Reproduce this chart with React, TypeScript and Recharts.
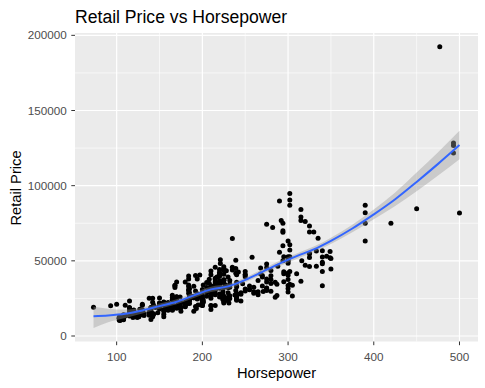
import React from "react";
import {
  ComposedChart,
  Scatter,
  Line,
  Area,
  XAxis,
  YAxis,
  CartesianGrid,
} from "recharts";

const FONT = "'Liberation Sans', Arial, sans-serif";

const chartTitle = "Retail Price vs Horsepower";
const xTitle = "Horsepower";
const yTitle = "Retail Price";

const xTicks = [100, 200, 300, 400, 500];
const yTicks = [0, 50000, 100000, 150000, 200000];
const xMinorGrid = [150, 250, 350, 450];
const yMinorGrid = [25000, 75000, 125000, 175000];

// [horsepower, retail price], one line per make
const cars: [number, number][] = [
  [265, 36945], [200, 23820], [200, 26990], [270, 33195], [225, 43755], [225, 46100], [290, 89765],
  [170, 25940], [170, 35940], [220, 31840], [220, 33430], [220, 34480], [220, 36640], [220, 39640],
  [220, 42490], [220, 44240], [250, 42840], [300, 49690], [330, 69190], [340, 48040], [450, 84600],
  [180, 35940], [225, 37390], [250, 40590], [220, 40840], [340, 49090],
  [225, 37000], [325, 52195], [184, 28495], [184, 30795], [184, 37995], [225, 35495], [225, 36995],
  [225, 37245], [184, 39995], [225, 44295], [225, 44995], [325, 54995], [325, 69195], [325, 73195],
  [333, 46435], [333, 56595], [184, 33895], [225, 41045], [184, 30245], [184, 32845],
  [275, 37895], [185, 26545], [175, 22180], [205, 26470], [200, 24895], [240, 28345], [205, 32245],
  [205, 35545], [240, 40720],
  [295, 52795], [320, 46995], [255, 30835], [275, 45445], [300, 50595], [275, 47955], [320, 76200], [345, 52975],
  [295, 42735], [295, 41465], [275, 30295], [165, 20255], [103, 11690], [103, 12585], [140, 14610],
  [140, 14810], [140, 16385], [180, 21900], [145, 18995], [200, 20370], [180, 21825], [200, 25000],
  [240, 27995], [200, 23495], [240, 24225], [190, 26395], [185, 27020], [350, 44535], [350, 51535],
  [295, 36100], [175, 18760], [200, 20310], [300, 40340], [300, 41995], [200, 22225],
  [150, 17985], [150, 22000], [220, 25955], [150, 19090], [200, 21840], [250, 29865], [200, 24130],
  [232, 26860], [255, 33295], [150, 25215], [200, 30950], [215, 34495], [215, 27490], [215, 38380], [250, 31230],
  [230, 32235], [132, 13670], [132, 15040], [200, 22035], [150, 18820], [150, 20220], [232, 24885],
  [150, 21795], [215, 32660], [500, 81795], [210, 17630], [210, 20300], [215, 20215],
  [310, 41475], [232, 34560], [210, 29670], [201, 22515], [110, 13270], [110, 13730], [130, 15460],
  [130, 15580], [170, 19135], [155, 20320], [201, 22735], [224, 24345], [224, 27370], [239, 30315],
  [193, 18345], [260, 29380], [280, 37530], [193, 26930], [130, 17475], [155, 22290], [231, 22010],
  [300, 33540], [143, 14385],
  [275, 31890], [285, 35725], [325, 46265], [190, 25640], [175, 16530], [285, 25717], [300, 29322], [190, 25395],
  [93, 20140], [73, 19110], [117, 14170], [115, 13270], [115, 15850], [160, 19860], [160, 22260],
  [127, 17750], [160, 19490], [240, 23760], [240, 26960], [240, 33260], [160, 19860], [160, 18690],
  [240, 27560], [240, 24950], [240, 27450],
  [316, 49995],
  [173, 21589], [103, 10539], [103, 11839], [103, 11939], [138, 13839], [138, 15389], [138, 15580],
  [170, 19339], [170, 20339], [194, 24589], [194, 26189], [172, 18739],
  [280, 34895], [315, 36395], [260, 28495], [280, 29795], [260, 32445], [255, 31145], [340, 42845], [340, 52545],
  [275, 31849], [130, 20449],
  [192, 29995], [227, 33995], [235, 43895], [294, 49995], [390, 63120], [294, 68995], [294, 59995],
  [390, 74995], [294, 69995], [294, 74995], [390, 81995], [390, 86995],
  [195, 27905], [210, 20130], [190, 25520],
  [192, 19635], [138, 16040], [104, 10280], [124, 12360], [124, 13580], [124, 14630], [170, 18435],
  [195, 26000], [104, 11905], [195, 20615],
  [282, 72250], [217, 39250], [174, 25995],
  [235, 45700], [235, 64800], [230, 39195], [225, 32350], [215, 31045], [215, 32415], [220, 41010],
  [300, 48450], [290, 55750], [300, 63200], [215, 32455],
  [302, 42915], [300, 52775], [232, 32495], [232, 36895], [280, 40095], [280, 43495], [239, 41815],
  [239, 44925], [239, 50470],
  [115, 16999], [163, 19999],
  [130, 21087], [148, 15500], [160, 17200], [160, 19270], [200, 28750], [142, 22388], [142, 25193],
  [197, 25700], [238, 27200], [143, 14840], [207, 29060],
  [292, 76870], [288, 46470], [189, 26060], [215, 28370], [168, 32280], [168, 33480], [215, 35920],
  [215, 37630], [349, 52120], [302, 94820], [493, 128420], [215, 45707], [302, 52800], [221, 48170],
  [302, 57270], [275, 74320], [302, 86970], [302, 90520], [493, 121770], [493, 126670], [192, 40320],
  [349, 56170], [168, 33780], [221, 50670], [302, 60670],
  [210, 29995], [155, 21595], [224, 24695], [224, 29595], [201, 23895], [302, 34495], [201, 33995], [155, 22595],
  [215, 30492], [215, 33112], [140, 18892], [120, 14622], [120, 16722], [230, 25700], [205, 29282],
  [210, 25092], [210, 26992], [271, 29562], [120, 17232], [160, 17495],
  [305, 33840], [180, 20939], [126, 12740], [126, 14740], [165, 17640], [175, 19240], [245, 23290],
  [265, 27490], [265, 29440], [240, 24780], [240, 32780], [245, 28739], [287, 26910], [287, 34390],
  [240, 27339], [180, 19479], [305, 26650],
  [140, 18825], [170, 23675], [185, 28790],
  [185, 21595], [140, 15495], [140, 17735], [175, 22450], [200, 22395], [200, 24295], [275, 35995],
  [185, 23845], [185, 31370], [340, 33500], [130, 17045],
  [340, 56665], [315, 79165], [315, 84165], [315, 76765], [477, 192465], [228, 43365], [258, 52365],
  [210, 30860], [210, 33360], [220, 35105], [250, 39465], [210, 40670], [210, 43175], [250, 40845],
  [143, 20585], [140, 10995], [140, 14300], [140, 15825], [140, 14850], [140, 16350], [182, 21410], [182, 23560],
  [108, 12965], [108, 14165],
  [165, 24520], [165, 21445], [165, 19945], [165, 20445], [165, 25645], [165, 27145], [212, 29345],
  [212, 31545], [227, 25045], [300, 31545], [165, 23895],
  [185, 23699], [165, 17163], [155, 12884], [155, 14500], [119, 12269], [119, 15568], [155, 17262], [155, 16497],
  [240, 35695], [245, 27710], [220, 27930], [325, 54765], [161, 20290], [130, 14085], [130, 15030],
  [130, 15295], [108, 10760], [108, 11560], [108, 11290], [157, 19560], [225, 22775], [225, 25920],
  [157, 19635], [225, 21965], [210, 26560], [210, 30920], [225, 26510], [180, 22570], [110, 20510],
  [138, 25130], [230, 23495], [230, 28800], [130, 16695], [142, 12800], [190, 16495], [240, 25935],
  [220, 35515], [115, 18715], [180, 19825], [100, 21055], [115, 19005], [200, 23785], [150, 21055],
  [170, 23955], [190, 33180], [270, 39235], [335, 65000], [420, 75000], [115, 23215], [170, 24955], [270, 40235],
  [268, 41250], [170, 25135], [208, 31745], [247, 34845], [300, 37560], [208, 37730], [194, 37885],
  [197, 40565], [242, 42565], [268, 45210], [170, 26135], [208, 35145],
];

// loess smooth
const smoothHp = [73, 90, 110, 130, 150, 170, 190, 210, 230, 250, 270, 290, 310, 330, 350, 375, 400, 425, 450, 475, 500];
const smoothFit = [13200, 13700, 14800, 17000, 19900, 22800, 27000, 31000, 33000, 37300, 42700, 48200, 53100, 57600, 63300, 71500, 80900, 91000, 102500, 114500, 127000];
const smoothLower = [5300, 9200, 12000, 15000, 18100, 21100, 25300, 29300, 31300, 35600, 41000, 46400, 51300, 55700, 61200, 69000, 77700, 86500, 96300, 106700, 117500];
const smoothUpper = [19500, 18200, 17600, 19000, 21700, 24500, 28700, 32700, 34700, 39000, 44400, 50000, 54900, 59500, 65400, 74000, 84100, 95500, 108700, 122300, 136500];

const pointData = cars.map(([hp, price]) => ({ hp, price }));
const smoothData = smoothHp.map((hp, i) => ({
  hp,
  fit: smoothFit[i],
  band: [smoothLower[i], smoothUpper[i]],
}));

const renderDot = (props: any) => (
  <circle cx={props.cx} cy={props.cy} r={2.5} fill="#000000" />
);

const tickStyle = { fill: "#4D4D4D", fontSize: 11.7, fontFamily: FONT };

export default function App() {
  return (
    <div
      style={{
        position: "absolute",
        left: 0,
        top: 0,
        width: 485,
        height: 388,
        background: "#FFFFFF",
        fontFamily: FONT,
      }}
    >
      <ComposedChart
        width={485}
        height={388}
        margin={{ top: 33, right: 7, bottom: 0, left: 0 }}
      >
        <CartesianGrid
          fill="#EBEBEB"
          stroke="#FFFFFF"
          strokeWidth={0.6}
          horizontalValues={yMinorGrid}
          verticalValues={xMinorGrid}
        />
        <CartesianGrid
          stroke="#FFFFFF"
          strokeWidth={1.2}
          horizontalValues={yTicks}
          verticalValues={xTicks}
        />
        <XAxis
          type="number"
          dataKey="hp"
          domain={[51.4, 521.6]}
          allowDataOverflow
          ticks={xTicks}
          interval={0}
          height={46.5}
          axisLine={false}
          tickLine={{ stroke: "#333333" }}
          tickSize={3.7}
          tickMargin={7.2}
          tick={tickStyle}
        />
        <YAxis
          type="number"
          domain={[-3650, 201550]}
          allowDataOverflow
          ticks={yTicks}
          interval={0}
          width={75}
          axisLine={false}
          tickLine={{ stroke: "#333333" }}
          tickSize={3.7}
          tickMargin={4.6}
          tick={tickStyle}
        />
        <Scatter
          data={pointData}
          dataKey="price"
          shape={renderDot}
          isAnimationActive={false}
        />
        <Area
          data={smoothData}
          dataKey="band"
          type="monotone"
          stroke="none"
          fill="#999999"
          fillOpacity={0.4}
          isAnimationActive={false}
          zIndex={650}
        />
        <Line
          data={smoothData}
          dataKey="fit"
          type="monotone"
          stroke="#3366FF"
          strokeWidth={2}
          dot={false}
          isAnimationActive={false}
          zIndex={700}
        />
      </ComposedChart>
      <svg
        width={485}
        height={388}
        style={{ position: "absolute", left: 0, top: 0, pointerEvents: "none" }}
      >
        <text x={75} y={22.7} fontSize={17.6} fontFamily={FONT} fill="#000000">
          {chartTitle}
        </text>
        <text
          x={276.5}
          y={377.7}
          fontSize={14.7}
          fontFamily={FONT}
          fill="#000000"
          textAnchor="middle"
        >
          {xTitle}
        </text>
        <text
          x={20.7}
          y={188}
          fontSize={14.7}
          fontFamily={FONT}
          fill="#000000"
          textAnchor="middle"
          transform="rotate(-90 20.7 188)"
        >
          {yTitle}
        </text>
      </svg>
    </div>
  );
}
